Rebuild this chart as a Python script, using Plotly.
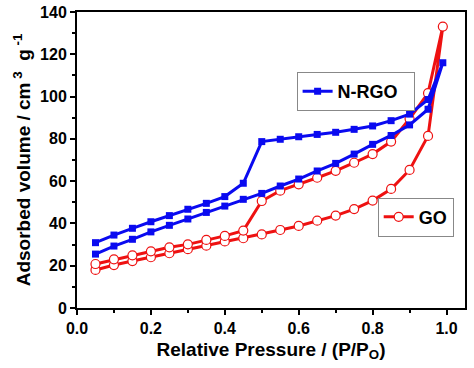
import plotly.graph_objects as go

# Relative pressure (P/Po)
p_ads = [0.05, 0.10, 0.15, 0.20, 0.25, 0.30, 0.35, 0.40, 0.45, 0.50,
         0.55, 0.60, 0.65, 0.70, 0.75, 0.80, 0.85, 0.90, 0.95, 0.99]
p_des = [0.05, 0.10, 0.15, 0.20, 0.25, 0.30, 0.35, 0.40, 0.45, 0.50,
         0.55, 0.60, 0.65, 0.70, 0.75, 0.80, 0.85, 0.90, 0.95]

nrgo_ads = [25.5, 29.3, 32.5, 36.0, 39.1, 42.1, 45.2, 48.2, 51.4, 54.2,
            57.7, 61.0, 64.8, 68.4, 72.8, 77.4, 81.6, 86.6, 94.0, 116.0]
nrgo_des = [30.9, 34.5, 37.7, 40.8, 43.7, 46.7, 49.5, 52.7, 59.0, 78.7,
            79.8, 81.0, 82.1, 83.1, 84.5, 86.1, 88.6, 91.7, 98.6]

go_ads = [18.0, 20.3, 22.2, 24.0, 25.9, 27.8, 29.5, 31.5, 33.0, 34.8,
          36.9, 38.8, 41.3, 43.7, 46.8, 50.8, 56.3, 65.3, 81.4, 133.1]
go_des = [20.8, 23.0, 24.9, 26.8, 28.7, 30.1, 32.2, 34.1, 36.6, 50.6,
          55.5, 58.5, 61.6, 64.9, 68.7, 72.8, 78.7, 89.5, 101.6]

x_ticks = [0.0, 0.2, 0.4, 0.6, 0.8, 1.0]
x_labels = ["0.0", "0.2", "0.4", "0.6", "0.8", "1.0"]
y_ticks = [0, 20, 40, 60, 80, 100, 120, 140]

RED = "#ee1111"
BLUE = "#0a0af0"
FONT = "Liberation Sans, Arial, sans-serif"

fig = go.Figure()

fig.add_trace(go.Scatter(
    x=p_ads + p_des[::-1], y=go_ads + go_des[::-1],
    mode="lines+markers", name="<b>GO</b>", legend="legend2",
    line=dict(color=RED, width=3),
    marker=dict(symbol="circle", size=9, color="white",
                line=dict(color=RED, width=1.2)),
))
fig.add_trace(go.Scatter(
    x=p_ads + p_des[::-1], y=nrgo_ads + nrgo_des[::-1],
    mode="lines+markers", name="<b>N-RGO</b>  ", legend="legend",
    line=dict(color=BLUE, width=3),
    marker=dict(symbol="square", size=7, color=BLUE),
))

axis_common = dict(
    showline=True, linecolor="black", linewidth=2, mirror=True,
    ticks="outside", ticklen=5, tickwidth=2, tickcolor="black",
    showgrid=False, zeroline=False, automargin=False,
    tickfont=dict(family=FONT, size=16, color="black", weight="bold"),
)

fig.update_xaxes(
    range=[0, 1.05], tickvals=x_ticks, ticktext=x_labels,
    minor=dict(ticks="outside", ticklen=3, tickwidth=2, dtick=0.1, tick0=0, tickcolor="black"),
    title=dict(text="<b>Relative Pressure / (P/P<sub>O</sub>)</b>",
               font=dict(family=FONT, size=19, color="black"), standoff=6),
    **axis_common,
)
fig.update_yaxes(
    range=[0, 140], tickvals=y_ticks,
    minor=dict(ticks="outside", ticklen=3, tickwidth=2, dtick=10, tick0=0, tickcolor="black"),
    title=dict(text="<b>Adsorbed volume / cm<sup> 3</sup>  g<sup> -1</sup></b>",
               font=dict(family=FONT, size=19, color="black"), standoff=4),
    **axis_common,
)

legend_common = dict(
    bgcolor="white", bordercolor="#888888", borderwidth=1,
    font=dict(family=FONT, size=18, color="black"),
    xanchor="left", yanchor="top", itemwidth=30,
    tracegroupgap=0,
)

fig.update_layout(
    width=474, height=368,
    margin=dict(l=77, r=9, t=12, b=60),
    paper_bgcolor="white", plot_bgcolor="white",
    showlegend=True,
    legend=dict(x=0.566, y=0.797, **legend_common),
    legend2=dict(x=0.775, y=0.373, **legend_common),
)

fig.write_html("out.html", config={"displayModeBar": False},
               post_script="document.body.style.margin='0';")
